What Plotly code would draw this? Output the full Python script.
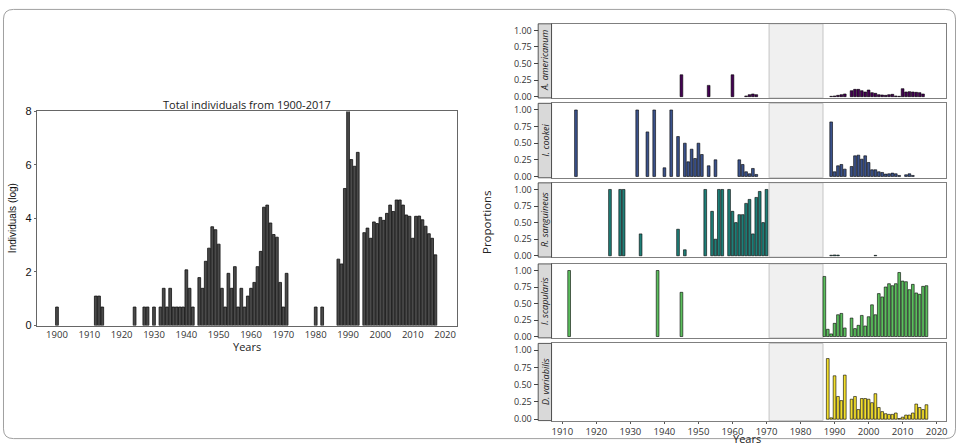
import plotly.graph_objects as go

# ---------------- data ----------------
total_years = [1900, 1912, 1913, 1914, 1924, 1927, 1928, 1930,
               1932, 1933, 1934, 1935, 1936, 1937, 1938, 1939, 1940, 1941, 1942,
               1944, 1945, 1946, 1947, 1948, 1949, 1950, 1951, 1952, 1953, 1954, 1955,
               1956, 1957, 1958, 1959, 1960, 1961, 1962, 1963, 1964, 1965, 1966, 1967,
               1968, 1969, 1970, 1971, 1980, 1982,
               1987, 1988, 1989, 1990, 1991, 1992, 1993,
               1995, 1996, 1997, 1998, 1999, 2000, 2001, 2002, 2003, 2004, 2005, 2006,
               2007, 2008, 2009, 2010, 2011, 2012, 2013, 2014, 2015, 2016, 2017]
total_log = [0.69, 1.10, 1.10, 0.69, 0.69, 0.69, 0.69, 0.69,
             0.69, 1.39, 0.69, 1.39, 0.69, 0.69, 0.69, 0.69, 2.08, 1.39, 0.69,
             1.79, 1.39, 2.40, 2.89, 3.69, 3.58, 3.04, 1.39, 0.69, 1.95, 1.39, 2.20,
             0.69, 1.39, 0.69, 1.10, 1.39, 1.61, 2.20, 2.77, 4.42, 4.50, 3.83, 3.40,
             3.30, 1.61, 0.69, 1.95, 0.69, 0.69,
             2.48, 2.30, 5.12, 8.05, 6.20, 5.95, 6.47,
             3.47, 3.64, 3.26, 3.87, 3.81, 4.04, 3.93, 4.19, 4.50, 4.26, 4.69, 4.69,
             4.50, 4.13, 4.08, 3.26, 4.08, 4.09, 3.95, 3.71, 3.43, 3.26, 2.64]

species = ["A. americanum", "I. cookei", "R. sanguineus", "I. scapularis", "D. variabilis"]

amer_years = [1945, 1953, 1960, 1964, 1965, 1966, 1967,
              1989, 1990, 1991, 1992, 1993,
              1995, 1996, 1997, 1998, 1999, 2000, 2001, 2002, 2003, 2004, 2005, 2006,
              2007, 2008, 2009, 2010, 2011, 2012, 2013, 2014, 2015, 2016]
amer_vals = [0.33, 0.17, 0.33, 0.01, 0.03, 0.04, 0.03,
             0.005, 0.01, 0.02, 0.03, 0.04,
             0.09, 0.11, 0.11, 0.09, 0.07, 0.10, 0.06, 0.05, 0.03, 0.025, 0.02, 0.03,
             0.035, 0.01, 0.005, 0.12, 0.07, 0.075, 0.07, 0.065, 0.06, 0.04]

cookei_years = [1914, 1932, 1935, 1937, 1940, 1942, 1944, 1946, 1947, 1948, 1949, 1950,
                1951, 1953, 1955, 1962, 1963, 1964, 1965, 1966, 1967,
                1989, 1990, 1991, 1992, 1993,
                1995, 1996, 1997, 1998, 1999, 2000, 2001, 2002, 2003, 2004, 2005, 2006,
                2007, 2008, 2009, 2011, 2012, 2013]
cookei_vals = [1.0, 1.0, 0.67, 1.0, 0.13, 1.0, 0.6, 0.5, 0.22, 0.41, 0.27, 0.5,
               0.33, 0.16, 0.25, 0.25, 0.18, 0.07, 0.04, 0.12, 0.03,
               0.82, 0.07, 0.16, 0.18, 0.11,
               0.15, 0.31, 0.32, 0.26, 0.31, 0.21, 0.10, 0.10, 0.07, 0.06, 0.035, 0.04,
               0.05, 0.04, 0.015, 0.025, 0.04, 0.015]

sang_years = [1924, 1927, 1928, 1933, 1944, 1946, 1952, 1954, 1955, 1956, 1957, 1959,
              1960, 1961, 1962, 1963, 1964, 1965, 1966, 1967, 1968, 1969, 1970,
              1989, 1990, 1991, 2002]
sang_vals = [1.0, 1.0, 1.0, 0.33, 0.4, 0.09, 1.0, 0.67, 0.25, 1.0, 1.0, 1.0,
             0.67, 0.5, 0.62, 0.62, 0.79, 0.85, 0.33, 0.88, 0.97, 0.5, 1.0,
             0.008, 0.012, 0.01, 0.006]

scap_years = [1912, 1938, 1945,
              1987, 1988, 1989, 1990, 1991, 1992, 1993,
              1995, 1996, 1997, 1998, 1999, 2000, 2001, 2002, 2003, 2004, 2005, 2006,
              2007, 2008, 2009, 2010, 2011, 2012, 2013, 2014, 2015, 2016, 2017]
scap_vals = [1.0, 1.0, 0.67,
             0.91, 0.11, 0.04, 0.2, 0.33, 0.35, 0.13,
             0.28, 0.12, 0.17, 0.32, 0.16, 0.3, 0.48, 0.33, 0.65, 0.6, 0.75, 0.8,
             0.77, 0.8, 0.97, 0.84, 0.83, 0.71, 0.79, 0.66, 0.64, 0.76, 0.77]

var_years = [1988, 1989, 1990, 1991, 1992, 1993,
             1995, 1996, 1997, 1998, 1999, 2000, 2001, 2002, 2003, 2004, 2005, 2006,
             2007, 2008, 2009, 2010, 2011, 2012, 2013, 2014, 2015, 2016, 2017]
var_vals = [0.88, 0.02, 0.63, 0.33, 0.27, 0.64,
            0.29, 0.33, 0.14, 0.3, 0.3, 0.29, 0.24, 0.37, 0.17, 0.11, 0.08, 0.07,
            0.07, 0.09, 0.01, 0.03, 0.06, 0.06, 0.09, 0.22, 0.17, 0.14, 0.21]

left_xticks = list(range(1900, 2021, 10))
left_yticks = [0, 2, 4, 6, 8]
right_xticks = list(range(1910, 2021, 10))
right_yticks = [0, 0.25, 0.5, 0.75, 1.0]
gap_period = (1970.76, 1986.6)

# ---------------- styling / layout ----------------
W, H = 961, 448
def fx(p): return p / W
def fy(p): return 1 - p / H

colors = ["#440154", "#3b528b", "#1f7f78", "#5cbf5e", "#f2de2c"]
series_years = [amer_years, cookei_years, sang_years, scap_years, var_years]
series_vals = [amer_vals, cookei_vals, sang_vals, scap_vals, var_vals]
panel_px = [(18.3, 94.5), (100.0, 176.5), (181.7, 258.0), (265.0, 341.0), (346.7, 426.0)]

FONT = "Open Sans"
fig = go.Figure()

fig.add_trace(go.Bar(x=total_years, y=total_log, width=0.85,
                     marker=dict(color="#4a4a4a", line=dict(color="#111111", width=0.8)),
                     xaxis="x", yaxis="y", showlegend=False, hoverinfo="x+y"))

layout = dict(
    width=W, height=H, margin=dict(l=0, r=0, t=0, b=0),
    paper_bgcolor="white", plot_bgcolor="white", showlegend=False,
    xaxis=dict(domain=[fx(37), fx(458)], range=[1893.8, 2023.7], anchor="y",
               tickvals=left_xticks, ticks="", showgrid=False, zeroline=False,
               showline=True, mirror=True, linecolor="#666666", linewidth=1,
               tickfont=dict(family=FONT, size=9.5, color="#333333")),
    yaxis=dict(domain=[fy(328.3), fy(108.3)], range=[0, 8], anchor="x",
               tickvals=left_yticks, ticks="outside", ticklen=2, tickcolor="#666666",
               showgrid=False, zeroline=False,
               showline=True, mirror=True, linecolor="#666666", linewidth=1,
               tickfont=dict(family="Liberation Sans", size=11, color="#111111")),
)

shapes = []
annotations = []
for i in range(5):
    n = i + 2
    top, bot = panel_px[i]
    xa, ya = f"xaxis{n}", f"yaxis{n}"
    fig.add_trace(go.Bar(x=series_years[i], y=series_vals[i], width=0.8,
                         marker=dict(color=colors[i], line=dict(color="#000000", width=0.6)),
                         xaxis=f"x{n}", yaxis=f"y{n}", showlegend=False, name=species[i]))
    last = (i == 4)
    layout[xa] = dict(domain=[fx(552.7), fx(947.7)], range=[1906.83, 2022.67], anchor=f"y{n}",
                      tickvals=right_xticks, showticklabels=last,
                      ticks="outside" if last else "", ticklen=2, tickcolor="#555555",
                      showgrid=False, zeroline=False,
                      showline=True, mirror=True, linecolor="#7f7f7f", linewidth=1,
                      tickfont=dict(family=FONT, size=9.5, color="#333333"))
    layout[ya] = dict(domain=[fy(bot), fy(top)], range=[-0.02, 1.1], anchor=f"x{n}",
                      tickvals=right_yticks, ticktext=[f"{v:.2f}" for v in right_yticks],
                      ticks="outside", ticklen=17, tickcolor="#444444", tickwidth=1,
                      showgrid=False, zeroline=False,
                      showline=True, mirror=True, linecolor="#7f7f7f", linewidth=1,
                      tickfont=dict(family=FONT, size=9, color="#333333"))
    # gap shading
    shapes.append(dict(type="rect", xref=f"x{n}", yref=f"y{n} domain",
                       x0=gap_period[0], x1=gap_period[1], y0=0, y1=1,
                       fillcolor="#f0f0f0", line=dict(color="#c4c4c4", width=1), layer="below"))
    # strip
    shapes.append(dict(type="rect", xref="paper", yref="paper",
                       x0=fx(539.3), x1=fx(552.7), y0=fy(bot), y1=fy(top),
                       fillcolor="#d9d9d9", line=dict(color="#333333", width=0.8), layer="above"))
    annotations.append(dict(x=fx(546.2), y=fy((top + bot) / 2), xref="paper", yref="paper",
                            text=f"<i>{species[i]}</i>", textangle=-90, showarrow=False,
                            font=dict(family=FONT, size=9, color="#1a1a1a"),
                            xanchor="center", yanchor="middle"))

# outer rounded border
x0, x1 = fx(3.5), fx(957.5)
y0, y1 = fy(444.5), fy(3.5)
rx, ry = 10 / W, 10 / H
path = (f"M {x0+rx},{y1} L {x1-rx},{y1} Q {x1},{y1} {x1},{y1-ry} "
        f"L {x1},{y0+ry} Q {x1},{y0} {x1-rx},{y0} L {x0+rx},{y0} "
        f"Q {x0},{y0} {x0},{y0+ry} L {x0},{y1-ry} Q {x0},{y1} {x0+rx},{y1} Z")
shapes.append(dict(type="path", xref="paper", yref="paper", path=path,
                   line=dict(color="#a0a0a0", width=1), layer="above"))

annotations += [
    dict(x=fx(248), y=fy(101), text="Total individuals from 1900-2017",
         font=dict(family=FONT, size=11, color="#222222")),
    dict(x=fx(12), y=fy(218), text="Individuals (log)", textangle=-90,
         font=dict(family="Liberation Sans", size=10, color="#111111")),
    dict(x=fx(248), y=fy(349.5), text="Years",
         font=dict(family=FONT, size=11, color="#222222")),
    dict(x=fx(487), y=fy(222), text="Proportions", textangle=-90,
         font=dict(family=FONT, size=11.5, color="#222222")),
    dict(x=fx(749), y=fy(444), text="Years",
         font=dict(family=FONT, size=11, color="#222222")),
]
for a in annotations[-5:]:
    a.update(xref="paper", yref="paper", showarrow=False, xanchor="center", yanchor="middle")

layout["shapes"] = shapes
layout["annotations"] = annotations
fig.update_layout(**layout)
fig.write_html("out.html")
